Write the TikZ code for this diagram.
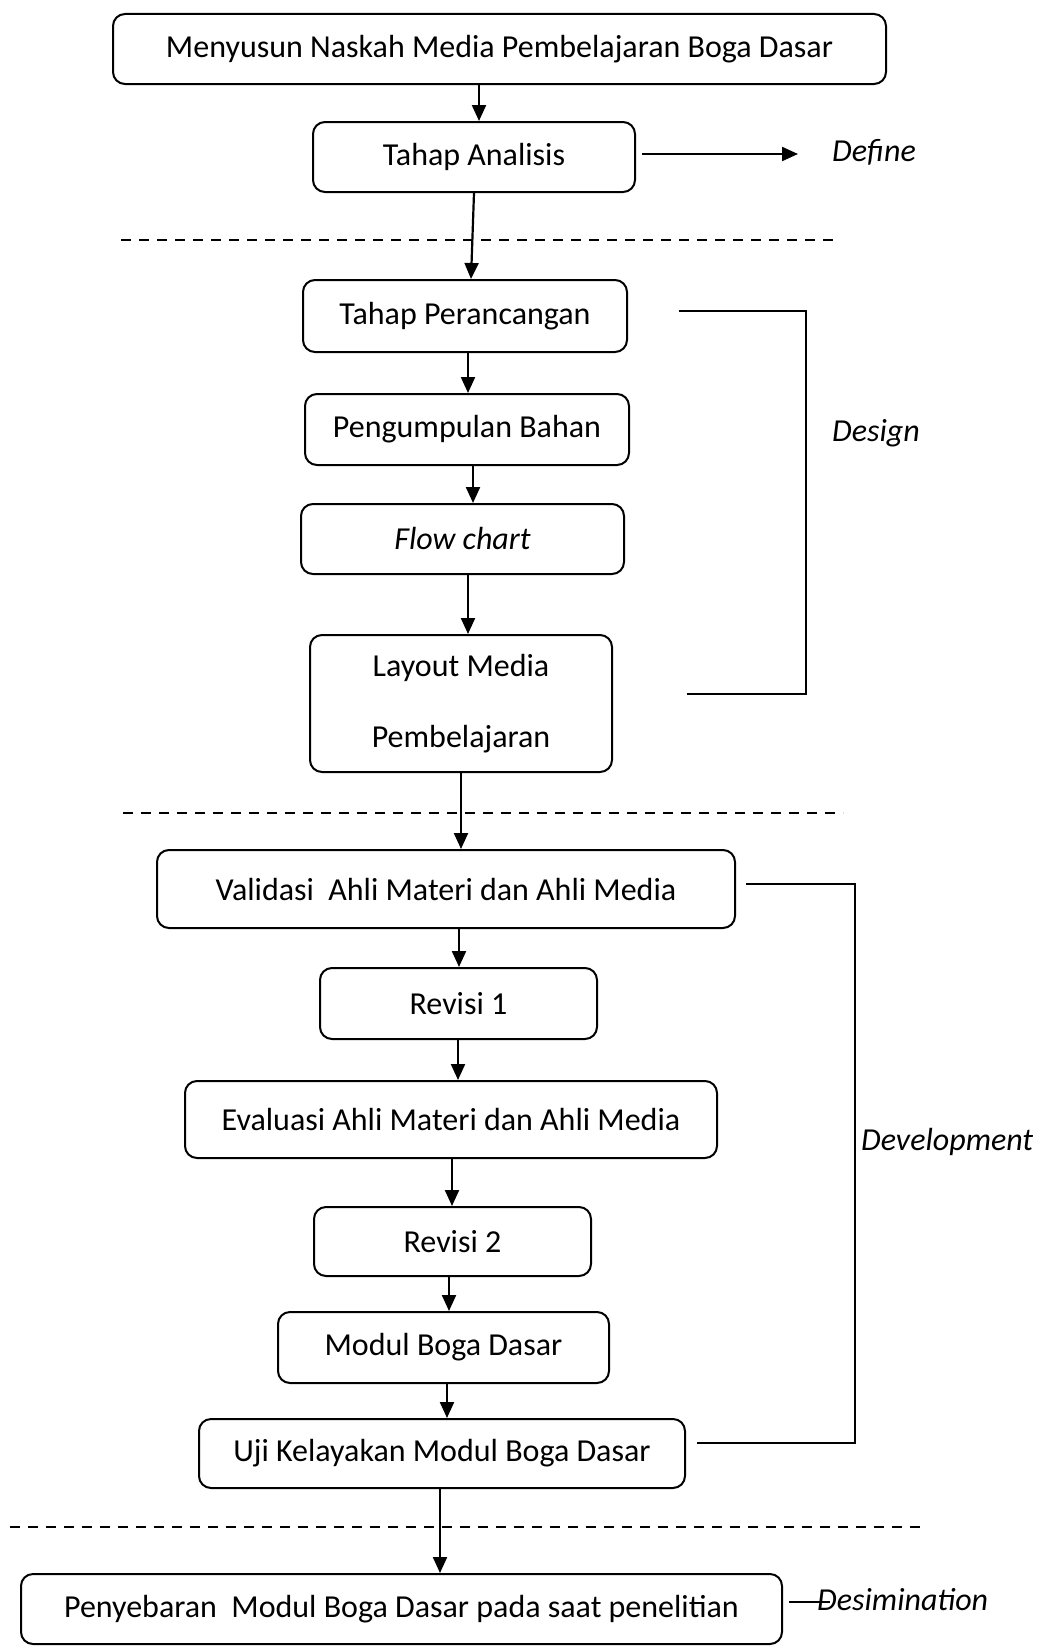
\documentclass[tikz,border=0pt]{standalone}
\usepackage{fontspec}
\setmainfont{Carlito}
\usetikzlibrary{arrows.meta,calc}
\begin{document}
\begin{tikzpicture}[x=1pt,y=-1pt,
  box/.style={draw, line width=2pt, rounded corners=12pt, inner sep=0pt, align=center, font=\fontsize{32}{39}\selectfont},
  arr/.style={line width=2.2pt, -{Triangle[length=16pt,width=14pt]}},
  lbl/.style={anchor=west, inner sep=0pt, font=\fontsize{32}{39}\selectfont\itshape},
  sep/.style={line width=2.8pt, dash pattern=on 10pt off 8pt},
  brk/.style={line width=2.2pt}]
\useasboundingbox (0,0) rectangle (1039,1646);

% boxes
\node[box, minimum width=773pt, minimum height=70pt] (b1) at (499.5,49) {Menyusun Naskah Media Pembelajaran Boga Dasar};
\node[box, minimum width=322pt, minimum height=70pt] (b2) at (474,157) {Tahap Analisis};
\node[box, minimum width=324pt, minimum height=72pt] (b3) at (465,316) {Tahap Perancangan};
\node[box, minimum width=324pt, minimum height=71pt] (b4) at (467,429.5) {Pengumpulan Bahan};
\node[box, minimum width=323pt, minimum height=70pt] (b5) at (462.5,539) {\itshape Flow chart};
\node[box, minimum width=302pt, minimum height=137pt] (b6) at (461,703.5) {Layout Media\\[32pt]Pembelajaran};
\node[box, minimum width=578pt, minimum height=78pt] (b7) at (446,889) {Validasi\ \ Ahli Materi dan Ahli Media};
\node[box, minimum width=277pt, minimum height=71pt] (b8) at (458.5,1003.5) {Revisi 1};
\node[box, minimum width=532pt, minimum height=77pt] (b9) at (451,1119.5) {Evaluasi Ahli Materi dan Ahli Media};
\node[box, minimum width=277pt, minimum height=69pt] (b10) at (452.5,1241.5) {Revisi 2};
\node[box, minimum width=331pt, minimum height=71pt] (b11) at (443.5,1347.5) {Modul Boga Dasar};
\node[box, minimum width=486pt, minimum height=69pt] (b12) at (442,1453.5) {Uji Kelayakan Modul Boga Dasar};
\node[box, minimum width=761pt, minimum height=70pt] (b13) at (401.5,1609) {Penyebaran\ \ Modul Boga Dasar pada saat penelitian};

% labels
\node[lbl] (define) at (832,152) {Define};
\node[lbl] (design) at (832,433) {Design};
\node[lbl] (devel) at (861,1142) {Development};
\node[lbl] (desim) at (817,1600) {Desimination};

% arrow columns
\coordinate (c1) at (479,0);
\coordinate (c2a) at (474,0);
\coordinate (c2b) at (471,0);
\coordinate (c3) at (468,0);
\coordinate (c4) at (473,0);
\coordinate (c5) at (468,0);
\coordinate (c6) at (461,0);
\coordinate (c7) at (459,0);
\coordinate (c8) at (458,0);
\coordinate (c9) at (452,0);
\coordinate (c10) at (449,0);
\coordinate (c11) at (447,0);
\coordinate (c12) at (440,0);

\draw[arr] (b1.south -| c1) -- (b2.north -| c1);
\draw[arr] (b2.south -| c2a) -- (b3.north -| c2b);
\draw[arr] (b3.south -| c3) -- (b4.north -| c3);
\draw[arr] (b4.south -| c4) -- (b5.north -| c4);
\draw[arr] (b5.south -| c5) -- (b6.north -| c5);
\draw[arr] (b6.south -| c6) -- (b7.north -| c6);
\draw[arr] (b7.south -| c7) -- (b8.north -| c7);
\draw[arr] (b8.south -| c8) -- (b9.north -| c8);
\draw[arr] (b9.south -| c9) -- (b10.north -| c9);
\draw[arr] (b10.south -| c10) -- (b11.north -| c10);
\draw[arr] (b11.south -| c11) -- (b12.north -| c11);
\draw[arr] (b12.south -| c12) -- (b13.north -| c12);

% define arrow
\coordinate (dA) at (642,154);
\coordinate (dB) at (798,154);
\draw[arr] (dA) -- (dB);

% separators
\draw[sep] (121,240) -- (840,240);
\draw[sep] (123,813) -- (843,813);
\draw[sep] (10,1527) -- (920,1527);

% design bracket
\draw[brk] (679,311) -- (806,311) -- (806,694) -- (687,694);
% development bracket
\draw[brk] (746,884) -- (855,884) -- (855,1443) -- (697,1443);
% desimination line
\draw[brk] (789,1602) -- (830,1602);
\end{tikzpicture}
\end{document}
